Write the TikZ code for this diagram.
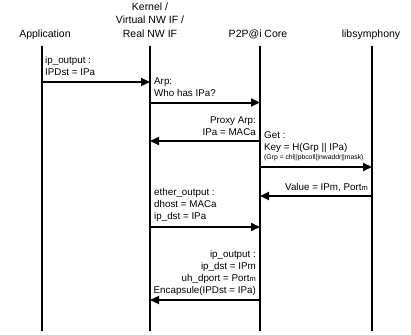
\documentclass[tikz,border=0pt]{standalone}
\usepackage{fontspec}
\setmainfont{Liberation Sans}
\usetikzlibrary{arrows.meta}
\begin{document}
\begin{tikzpicture}[x=1pt,y=-1pt,
  life/.style={line width=2pt},
  msg/.style={line width=2pt,-{Triangle[length=9pt,width=8pt]}},
  title/.style={font=\fontsize{10.5}{13.5}\selectfont,align=center,inner sep=0pt},
  lbl/.style={font=\fontsize{9.8}{12}\selectfont,inner sep=0pt},
  lblL/.style={lbl,align=left,anchor=base west},
  lblR/.style={lbl,align=right,anchor=base east},
  tiny/.style={font=\fontsize{6.8}{8}\selectfont,inner sep=0pt,anchor=base west}]
\useasboundingbox (0,0) rectangle (411,334);
% titles
\node[title,anchor=base] (app) at (45,37.5) {Application};
\node[title,anchor=south] (kern) at (150,37.5) {Kernel /\\Virtual NW IF /\\Real NW IF};
\node[title,anchor=base] (core) at (258,37.5) {P2P@i Core};
\node[title,anchor=base] (lib) at (371,37.5) {libsymphony};
% lifelines
\coordinate (aT) at (42,46);  \coordinate (aB) at (42,331);
\coordinate (kT) at (150,46); \coordinate (kB) at (150,331);
\coordinate (cT) at (260,46); \coordinate (cB) at (260,331);
\coordinate (lT) at (372,46); \coordinate (lB) at (372,331);
\draw[life] (aT) -- (aB);
\draw[life] (kT) -- (kB);
\draw[life] (cT) -- (cB);
\draw[life] (lT) -- (lB);
% message endpoints
\coordinate (a1) at (42,82);   \coordinate (k1) at (150,82);
\coordinate (k2) at (150,102.5); \coordinate (c2) at (260,102.5);
\coordinate (c3) at (260,141); \coordinate (k3) at (150,141);
\coordinate (c4) at (260,167); \coordinate (l4) at (372,167);
\coordinate (l5) at (372,196); \coordinate (c5) at (260,196);
\coordinate (k6) at (150,227); \coordinate (c6) at (260,227);
\coordinate (c7) at (260,300); \coordinate (k7) at (150,300);
\draw[msg] (a1) -- (k1);
\draw[msg] (k2) -- (c2);
\draw[msg] (c3) -- (k3);
\draw[msg] (c4) -- (l4);
\draw[msg] (l5) -- (c5);
\draw[msg] (k6) -- (c6);
\draw[msg] (c7) -- (k7);
% labels (anchor = baseline of last line)
\node[lblL] (t1) at (45,76) {ip\_output :\\IPDst = IPa};
\node[lblL] (t2) at (154,96) {Arp:\\Who has IPa?};
\node[lblR] (t3) at (256,135) {Proxy Arp:\\IPa = MACa};
\node[lblL] (t4) at (264,150) {Get :\\Key = H(Grp || IPa)};
\node[tiny] (t4b) at (264,159) {(Grp = chl||pbcoll||nwaddr||mask)};
\node[lblR] (t5) at (368,190) {Value = IPm, Port{\fontsize{7.5}{9}\selectfont m}};
\node[lblL] (t6) at (154,219) {ether\_output :\\dhost = MACa\\ip\_dst = IPa};
\node[lblR] (t7) at (256,293) {ip\_output :\\ip\_dst = IPm\\uh\_dport = Port{\fontsize{7.5}{9}\selectfont m}\\Encapsule(IPDst = IPa)};
\end{tikzpicture}
\end{document}
